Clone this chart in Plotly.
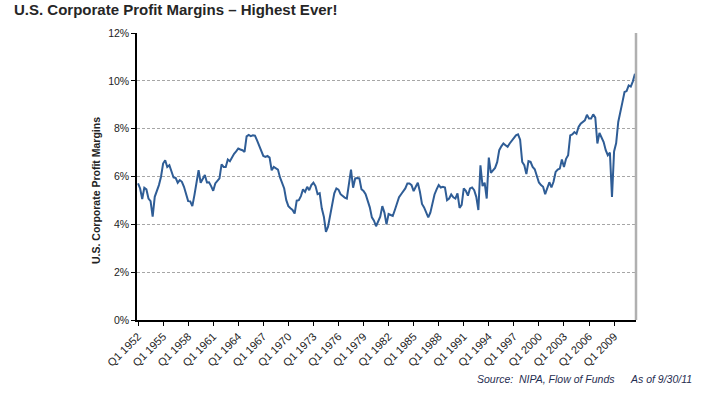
import plotly.graph_objects as go

# ---- data (percent of sales), quarterly Q1 1952 .. Q3 2011 ----
years = list(range(1952, 2012))
quarter_labels = [f"Q{q} {y}" for y in years for q in (1, 2, 3, 4)]

margins_1952_1963 = [5.71, 5.5, 5.06, 5.53, 5.46, 5.08, 4.97, 4.32, 5.15, 5.4, 5.64, 5.99,
                     6.54, 6.68, 6.4, 6.47, 6.19, 5.96, 5.94, 5.74, 5.85, 5.78, 5.57, 5.26,
                     4.97, 4.96, 4.76, 5.22, 5.78, 6.26, 5.74, 5.88, 6.06, 5.75, 5.76, 5.6,
                     5.4, 5.71, 5.8, 5.92, 6.51, 6.4, 6.4, 6.71, 6.64, 6.82, 6.95, 7.05]
margins_1964_1975 = [7.17, 7.13, 7.1, 7.03, 7.68, 7.74, 7.69, 7.72, 7.71, 7.51, 7.27, 7.03,
                     6.86, 6.82, 6.86, 6.79, 6.26, 6.4, 6.33, 6.29, 5.96, 5.71, 5.5, 5.01,
                     4.76, 4.67, 4.6, 4.45, 4.99, 5.01, 5.18, 5.46, 5.36, 5.57, 5.43, 5.64,
                     5.74, 5.6, 5.26, 5.3, 4.67, 4.32, 3.69, 3.9, 4.32, 4.88, 5.3, 5.5]
margins_1976_1987 = [5.45, 5.26, 5.18, 5.12, 5.08, 5.78, 6.29, 5.53, 5.92, 5.94, 5.92, 5.47,
                     5.4, 5.26, 5.01, 4.71, 4.29, 4.15, 3.92, 4.13, 4.32, 4.76, 4.49, 4.0,
                     4.43, 4.39, 4.35, 4.6, 4.88, 5.13, 5.26, 5.36, 5.5, 5.71, 5.71, 5.64,
                     5.39, 5.57, 5.74, 5.36, 4.85, 4.71, 4.53, 4.29, 4.49, 4.88, 5.25, 5.46]
margins_1988_1999 = [5.64, 5.54, 5.57, 5.54, 5.01, 5.08, 5.25, 5.13, 5.08, 5.29, 4.69, 4.81,
                     5.5, 5.4, 5.2, 5.5, 5.54, 5.43, 5.15, 4.6, 6.47, 5.6, 5.74, 5.08,
                     6.79, 6.15, 6.26, 6.36, 6.6, 7.1, 7.26, 7.38, 7.31, 7.24, 7.38, 7.51,
                     7.61, 7.72, 7.76, 7.54, 6.61, 6.47, 6.1, 6.64, 6.61, 6.4, 6.3, 6.05]
margins_2000_2011 = [5.75, 5.64, 5.57, 5.26, 5.5, 5.76, 5.54, 5.78, 6.19, 6.29, 6.33, 6.71,
                     6.4, 6.74, 6.89, 7.72, 7.76, 7.86, 7.79, 8.07, 8.21, 8.28, 8.35, 8.58,
                     8.42, 8.42, 8.6, 8.46, 7.38, 7.82, 7.65, 7.44, 7.1, 6.89, 7.0, 5.15,
                     7.05, 7.4, 8.28, 8.76, 9.11, 9.53, 9.57, 9.81, 9.76, 9.98, 10.3]

margins = margins_1952_1963 + margins_1964_1975 + margins_1976_1987 + margins_1988_1999 + margins_2000_2011
quarters = quarter_labels[:len(margins)]
tick_labels = quarters[::12]
y_ticks = [0, 2, 4, 6, 8, 10, 12]

FONT = "Arial, Liberation Sans, sans-serif"

fig = go.Figure()
fig.add_trace(go.Scatter(
    x=quarters, y=margins, mode="lines",
    line=dict(color="#2f5d96", width=2),
    hoverinfo="x+y",
))

fig.update_layout(
    width=705, height=397,
    margin=dict(l=137, r=69, t=33, b=77),
    paper_bgcolor="white", plot_bgcolor="white",
    showlegend=False,
    font=dict(family=FONT, color="#222222"),
    title=dict(text="<b>U.S. Corporate Profit Margins – Highest Ever!</b>",
               xref="container", yref="container",
               x=14 / 705, xanchor="left", y=1 - 10 / 397, yanchor="middle",
               font=dict(size=15, color="#262626", family=FONT)),
)

fig.update_xaxes(
    type="category", categoryorder="array", categoryarray=quarters,
    range=[-0.5, len(quarters) - 0.5],
    tickmode="array", tickvals=tick_labels, ticktext=tick_labels,
    tickangle=-45, tickfont=dict(size=11, color="#222222"),
    showgrid=False, zeroline=False,
    showline=True, linecolor="black", linewidth=1.5,
    ticks="outside", ticklen=4, tickcolor="black", tickwidth=1,
)
fig.update_yaxes(
    range=[0, 12], tickmode="array", tickvals=y_ticks,
    ticktext=[f"{v}%" for v in y_ticks],
    tickfont=dict(size=10.5, color="#222222"),
    showgrid=True, gridcolor="#a6a6a6", griddash="3px,2px", gridwidth=1,
    zeroline=False,
    showline=True, linecolor="black", linewidth=1.5,
    ticks="outside", ticklen=4, tickcolor="black", tickwidth=1,
)

# right border of plot area (gray)
fig.add_shape(type="line", xref="paper", yref="paper", x0=1, x1=1, y0=0, y1=1,
              line=dict(color="#b0b0b0", width=2.5))

# y-axis title
fig.add_annotation(text="<b>U.S. Corporate Profit Margins</b>", textangle=-90,
                   xref="paper", yref="paper", x=-41 / 499, y=(320 - 191) / 287,
                   xanchor="center", yanchor="middle", showarrow=False,
                   font=dict(size=10.5, color="#222222", family=FONT))

# source notes
fig.add_annotation(text="<i>Source:\u00a0\u00a0NIPA, Flow of Funds</i>",
                   xref="paper", yref="paper", x=(617 - 137) / 499, y=(320 - 379) / 287,
                   xanchor="right", yanchor="middle", showarrow=False,
                   font=dict(size=10.5, color="#1f2d50", family=FONT))
fig.add_annotation(text="<i>As of 9/30/11</i>",
                   xref="paper", yref="paper", x=(694 - 137) / 499, y=(320 - 379) / 287,
                   xanchor="right", yanchor="middle", showarrow=False,
                   font=dict(size=10.5, color="#1f2d50", family=FONT))

fig.write_html("out.html", config={"displayModeBar": False},
               post_script="document.body.style.margin='0';document.body.style.overflow='hidden';")
